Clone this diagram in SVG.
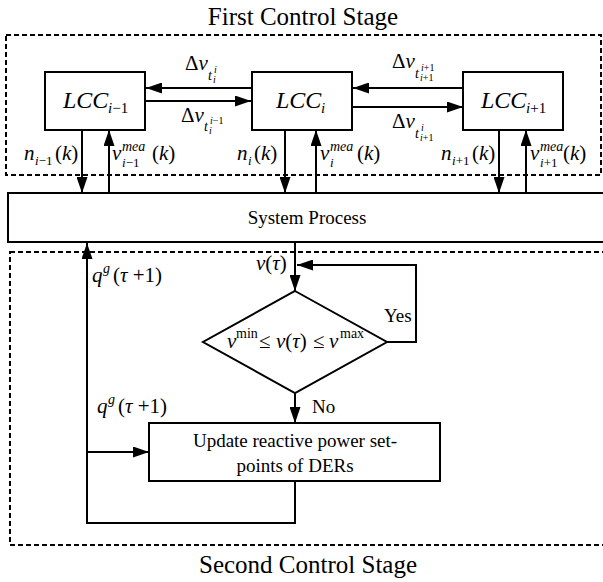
<svg xmlns="http://www.w3.org/2000/svg" width="603" height="582" viewBox="0 0 603 582">
<defs>
<marker id="ah" markerUnits="userSpaceOnUse" markerWidth="16" markerHeight="11" viewBox="0 0 16 11" refX="16" refY="5.5" orient="auto"><path d="M0,0 L16,5.5 L0,11 Z" fill="#000"/></marker>
</defs>
<style>
.box{fill:#fff;stroke:#000;stroke-width:2}
.dash{fill:none;stroke:#000;stroke-width:2;stroke-dasharray:5 3}
.ar{fill:none;stroke:#000;stroke-width:2;marker-end:url(#ah)}
text{font-family:"Liberation Serif","Times New Roman",serif;fill:#000}
.t{font-size:25px}
.r{font-size:19px}
.m{font-size:21px}
.i{font-style:italic}
.s{font-size:13px}
.sm{font-size:14px}
.ss{font-size:10px}
.L{font-size:24px;font-style:italic}
.Ls{font-size:15px}
</style>
<rect fill="#fff" x="0" y="0" width="603" height="582"/>
<g id="stage1">
<rect class="dash" x="6" y="35" width="595" height="140"/>
<text class="t" x="303" y="25" text-anchor="middle">First Control Stage</text>
</g>
<g id="stage2">
<rect class="dash" x="10" y="252" width="620" height="293"/>
<text class="t" x="308" y="573" text-anchor="middle">Second Control Stage</text>
</g>
<g id="connectors">
<line class="ar" x1="251" y1="88" x2="146" y2="88"/>
<line class="ar" x1="146" y1="101" x2="251" y2="101"/>
<line class="ar" x1="463" y1="88" x2="353" y2="88"/>
<line class="ar" x1="353" y1="107" x2="463" y2="107"/>
<line class="ar" x1="82" y1="130" x2="82" y2="193"/>
<line class="ar" x1="109" y1="193" x2="109" y2="130"/>
<line class="ar" x1="285" y1="130" x2="285" y2="193"/>
<line class="ar" x1="316" y1="193" x2="316" y2="130"/>
<line class="ar" x1="499" y1="130" x2="499" y2="193"/>
<line class="ar" x1="526" y1="193" x2="526" y2="130"/>
<line class="ar" x1="295" y1="242" x2="295" y2="291"/>
<polyline class="ar" points="387,342 416,342 416,265 297,265"/>
<line class="ar" x1="295" y1="393" x2="295" y2="423"/>
<polyline class="ar" points="295,481 295,523 87,523 87,243"/>
<line class="ar" x1="87" y1="452" x2="149" y2="452"/>
</g>
<g id="lcc_im1">
<rect class="box" x="45" y="72" width="100" height="58"/>
<text x="63" y="108"><tspan class="L">LCC</tspan><tspan class="Ls i" x="108" y="113">i</tspan><tspan class="Ls">−1</tspan></text>
</g>
<g id="lcc_i">
<rect class="box" x="252" y="72" width="100" height="58"/>
<text x="276" y="108"><tspan class="L">LCC</tspan><tspan class="Ls i" x="321" y="113">i</tspan></text>
</g>
<g id="lcc_ip1">
<rect class="box" x="463" y="72" width="100" height="58"/>
<text x="481" y="108"><tspan class="L">LCC</tspan><tspan class="Ls i" x="526" y="113">i</tspan><tspan class="Ls">+1</tspan></text>
</g>
<g id="system_process">
<rect class="box" x="8" y="193" width="620" height="49"/>
<text class="r" x="307" y="224" text-anchor="middle">System Process</text>
</g>
<g id="decision">
<polygon class="box" points="295,291 387,342 295,393 203,342"/>
<text x="227" y="348"><tspan class="m i">v</tspan><tspan class="sm" x="236" y="338">min</tspan><tspan class="m" x="259" y="348">≤</tspan><tspan class="m i" x="276">v</tspan><tspan class="m">(</tspan><tspan class="m i">τ</tspan><tspan class="m">)</tspan><tspan class="m" x="313">≤</tspan><tspan class="m i" x="329">v</tspan><tspan class="sm" x="340" y="338">max</tspan></text>
</g>
<g id="update">
<rect class="box" x="149" y="423" width="291" height="58"/>
<text class="r" x="295" y="447" text-anchor="middle">Update reactive power set-</text>
<text class="r" x="295" y="472" text-anchor="middle">points of DERs</text>
</g>
<g id="labels">
<text x="185" y="70"><tspan class="m">Δ</tspan><tspan class="m i">v</tspan><tspan class="sm i" x="208" y="80">t</tspan><tspan class="ss i" x="214" y="73">i</tspan><tspan class="ss i" x="213" y="83">i</tspan></text>
<text x="181" y="122"><tspan class="m">Δ</tspan><tspan class="m i">v</tspan><tspan class="sm i" x="204" y="131">t</tspan><tspan class="ss i" x="210" y="124">i</tspan><tspan class="ss">−1</tspan><tspan class="ss i" x="209" y="134">i</tspan></text>
<text x="392" y="68"><tspan class="m">Δ</tspan><tspan class="m i">v</tspan><tspan class="sm i" x="415" y="78">t</tspan><tspan class="ss i" x="421" y="71">i</tspan><tspan class="ss">+1</tspan><tspan class="ss i" x="420" y="81">i</tspan><tspan class="ss">+1</tspan></text>
<text x="392" y="128"><tspan class="m">Δ</tspan><tspan class="m i">v</tspan><tspan class="sm i" x="415" y="138">t</tspan><tspan class="ss i" x="421" y="131">i</tspan><tspan class="ss i" x="420" y="141">i</tspan><tspan class="ss">+1</tspan></text>
<text x="24" y="160"><tspan class="m i">n</tspan><tspan class="s i" x="35" y="165">i</tspan><tspan class="s">−1</tspan><tspan class="m" x="55" y="160">(</tspan><tspan class="m i">k</tspan><tspan class="m">)</tspan></text>
<text x="112" y="160"><tspan class="m i">v</tspan><tspan class="sm i" x="122" y="151">mea</tspan><tspan class="s i" x="122" y="167">i</tspan><tspan class="s">−1</tspan><tspan class="m" x="152" y="160">(</tspan><tspan class="m i">k</tspan><tspan class="m">)</tspan></text>
<text x="237" y="160"><tspan class="m i">n</tspan><tspan class="s i" x="248" y="165">i</tspan><tspan class="m" x="254" y="160">(</tspan><tspan class="m i">k</tspan><tspan class="m">)</tspan></text>
<text x="320" y="160"><tspan class="m i">v</tspan><tspan class="sm i" x="330" y="151">mea</tspan><tspan class="s i" x="330" y="167">i</tspan><tspan class="m" x="357" y="160">(</tspan><tspan class="m i">k</tspan><tspan class="m">)</tspan></text>
<text x="441" y="160"><tspan class="m i">n</tspan><tspan class="s i" x="452" y="165">i</tspan><tspan class="s">+1</tspan><tspan class="m" x="472" y="160">(</tspan><tspan class="m i">k</tspan><tspan class="m">)</tspan></text>
<text x="530" y="160"><tspan class="m i">v</tspan><tspan class="sm i" x="540" y="151">mea</tspan><tspan class="s i" x="540" y="167">i</tspan><tspan class="s">+1</tspan><tspan class="m" x="563" y="160">(</tspan><tspan class="m i">k</tspan><tspan class="m">)</tspan></text>
<text x="256" y="270"><tspan class="m i">v</tspan><tspan class="m">(</tspan><tspan class="m i">τ</tspan><tspan class="m">)</tspan></text>
<text x="92" y="282"><tspan class="m i">q</tspan><tspan class="sm i" x="103" y="273">g</tspan><tspan class="m" x="113" y="282">(</tspan><tspan class="m i">τ</tspan><tspan class="m"> +1)</tspan></text>
<text x="97" y="413"><tspan class="m i">q</tspan><tspan class="sm i" x="108" y="404">g</tspan><tspan class="m" x="118" y="413">(</tspan><tspan class="m i">τ</tspan><tspan class="m"> +1)</tspan></text>
<text class="r" x="384" y="322">Yes</text>
<text class="r" x="312" y="413">No</text>
</g>
</svg>
